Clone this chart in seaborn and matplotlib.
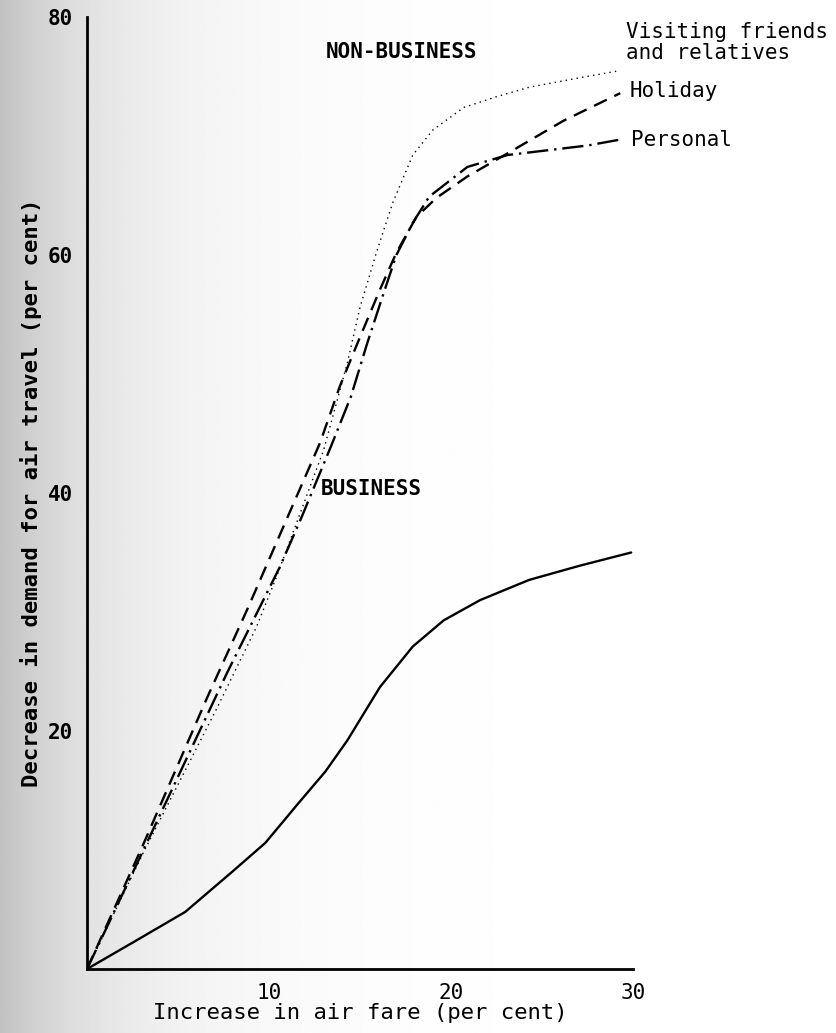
import numpy as np
import pandas as pd
import matplotlib
matplotlib.use("Agg")
import matplotlib.pyplot as plt
import seaborn as sns

# ---- data ----
business_x = [0, 2.6, 5.4, 8.0, 9.8, 11.6, 13.1, 14.3, 16.1, 17.9, 19.6, 21.6, 24.3, 27.1, 29.9]
business_y = [0, 2.3, 4.8, 8.2, 10.6, 13.9, 16.6, 19.2, 23.7, 27.1, 29.3, 31.0, 32.7, 33.9, 35.0]

holiday_x = [0, 3.1, 6.6, 8.8, 12.8, 13.9, 15.0, 16.1, 17.0, 18.1, 19.2, 20.9, 23.4, 26.2, 29.3]
holiday_y = [0, 10.5, 22.8, 30.2, 44.2, 49.0, 53.1, 57.1, 60.2, 63.2, 64.8, 66.6, 68.8, 71.3, 73.6]

personal_x = [0, 3.1, 7.7, 10.6, 11.8, 13.4, 14.5, 15.4, 16.3, 17.0, 17.9, 18.8, 20.9, 23.1, 25.3, 27.5, 29.3]
personal_y = [0, 10.0, 24.9, 33.8, 38.0, 43.9, 48.1, 52.6, 56.8, 60.0, 62.7, 64.9, 67.4, 68.4, 68.8, 69.2, 69.7]

vfr_x = [0, 3.1, 7.1, 9.3, 10.4, 13.0, 14.3, 15.0, 15.9, 16.8, 17.9, 19.0, 20.7, 22.5, 24.3, 27.1, 29.3]
vfr_y = [0, 9.8, 21.8, 28.7, 32.9, 43.6, 50.9, 55.6, 60.2, 64.4, 68.4, 70.5, 72.4, 73.3, 74.1, 74.9, 75.5]

x_ticks = [10, 20, 30]
y_ticks = [20, 40, 60, 80]
x_label = "Increase in air fare (per cent)"
y_label = "Decrease in demand for air travel (per cent)"

sns.set_style("white")
plt.rcParams['font.family'] = ['DejaVu Sans Mono', 'DejaVu Sans']
plt.rcParams['text.color'] = 'black'
plt.rcParams['axes.labelcolor'] = 'black'
plt.rcParams['xtick.color'] = 'black'
plt.rcParams['ytick.color'] = 'black'

fig = plt.figure(figsize=(8.36, 10.33), dpi=100)

# scanned grey shading on the left side
bg = fig.add_axes([0, 0, 1, 1], zorder=0)
xs = np.linspace(0, 836, 400)
shade = 1 - 0.24 * np.exp(-xs / 120.0)
img = np.tile(shade, (20, 1))
bg.imshow(img, cmap="gray", vmin=0, vmax=1, aspect="auto", extent=[0, 1, 0, 1])
bg.set_axis_off()

ax = fig.add_axes([87 / 836, 1 - 969 / 1033, (633 - 87) / 836, (969 - 17) / 1033], zorder=1)
ax.set_facecolor("none")

sns.lineplot(x=business_x, y=business_y, ax=ax, color="black", lw=1.7, linestyle="-")
sns.lineplot(x=holiday_x, y=holiday_y, ax=ax, color="black", lw=1.7, linestyle=(0, (6, 3.5)))
sns.lineplot(x=personal_x, y=personal_y, ax=ax, color="black", lw=1.7, linestyle=(0, (9, 2.5, 1, 2.5)))
sns.lineplot(x=vfr_x, y=vfr_y, ax=ax, color="black", lw=1.0, linestyle=(0, (1, 3)))

ax.set_xlim(0, 30)
ax.set_ylim(0, 80)
ax.set_xticks(x_ticks)
ax.set_yticks(y_ticks)
ax.tick_params(axis="both", direction="out", length=7, width=1.5, colors="black",
               labelsize=15, pad=3)
for s in ["top", "right"]:
    ax.spines[s].set_visible(False)
for s in ["left", "bottom"]:
    ax.spines[s].set_color("black")
    ax.spines[s].set_linewidth(2)

ax.set_xlabel(x_label, fontsize=16, labelpad=0)
ax.set_ylabel(y_label, fontsize=16, labelpad=4, fontweight="bold")
for t in ax.get_yticklabels():
    t.set_fontweight("bold")

ax.text(17.3, 77.1, "NON-BUSINESS", fontsize=15, fontweight="bold", ha="center", va="center")
ax.text(15.6, 40.3, "BUSINESS", fontsize=15, fontweight="bold", ha="center", va="center")
ax.text(29.6, 79.6, "Visiting friends\nand relatives", fontsize=15, ha="left", va="top",
        linespacing=1.05, clip_on=False)
ax.text(29.8, 73.8, "Holiday", fontsize=15, ha="left", va="center", clip_on=False)
ax.text(29.9, 69.7, "Personal", fontsize=15, ha="left", va="center", clip_on=False)

fig.savefig("out.png", dpi=100)
